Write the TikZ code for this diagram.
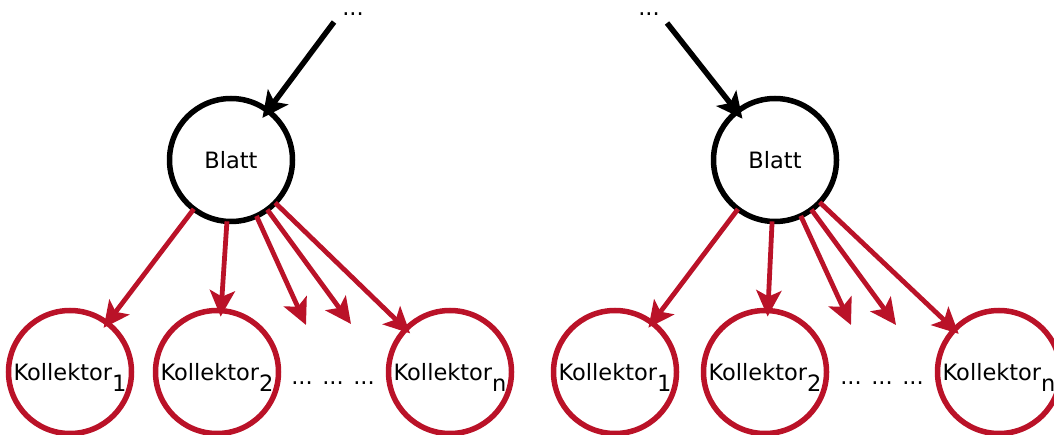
\documentclass[tikz,border=0pt]{standalone}
\usepackage{fontspec}
\setmainfont{DejaVu Sans}
\usetikzlibrary{arrows.meta}
\definecolor{kred}{RGB}{186,18,40}
% index written full size and lowered, without changing the box height
\newcommand\kidx[1]{\smash{\raisebox{-0.5em}{#1}}}
\begin{document}
\begin{tikzpicture}[x=1pt,y=-1pt,
  leaf/.style={circle, draw=black, line width=5.5pt, minimum size=123pt,
    inner sep=0pt, outer sep=0pt, font=\fontsize{22.5}{26}\selectfont},
  coll/.style={leaf, draw=kred},
  txt/.style={font=\fontsize{22.5}{26}\selectfont, inner sep=0pt},
  tip/.style={-{Stealth[length=26pt,width=25pt,inset=6pt]}},
  inarrow/.style={line width=5.5pt, tip, shorten >=-9pt},
  outarrow/.style={line width=4.8pt, draw=kred, tip, shorten >=-6pt},
  freearrow/.style={outarrow, shorten >=0pt},
]
\useasboundingbox (0,0) rectangle (1054,435);

% left tree
\node[leaf] (blattL) at (231,160) {Blatt};
\node[coll] (k1L) at (70,372) {Kollektor\kidx{1}};
\node[coll] (k2L) at (217,372) {Kollektor\kidx{2}};
\node[txt, anchor=base] (dotsL) at (333,384) {... ... ...};
\node[coll] (knL) at (450,372) {Kollektor\kidx{n}};
\node[txt, anchor=base] (topL) at (353,16) {...};
\coordinate (inL) at (334,22);
\coordinate (c3L) at (306,325);
\coordinate (c4L) at (351,324);

\draw[inarrow] (inL) -- (blattL);
\draw[outarrow] (blattL) -- (k1L);
\draw[outarrow] (blattL) -- (k2L);
\draw[freearrow] (blattL) -- (c3L);
\draw[freearrow] (blattL) -- (c4L);
\draw[outarrow] (blattL) -- (knL);

% right tree
\node[leaf] (blattR) at (775,160) {Blatt};
\node[coll] (k1R) at (615,372) {Kollektor\kidx{1}};
\node[coll] (k2R) at (765,372) {Kollektor\kidx{2}};
\node[txt, anchor=base] (dotsR) at (882,384) {... ... ...};
\node[coll] (knR) at (999,372) {Kollektor\kidx{n}};
\node[txt, anchor=base] (topR) at (649,16) {...};
\coordinate (inR) at (667,23);
\coordinate (c3R) at (851,325);
\coordinate (c4R) at (896,325);

\draw[inarrow] (inR) -- (blattR);
\draw[outarrow] (blattR) -- (k1R);
\draw[outarrow] (blattR) -- (k2R);
\draw[freearrow] (blattR) -- (c3R);
\draw[freearrow] (blattR) -- (c4R);
\draw[outarrow] (blattR) -- (knR);
\end{tikzpicture}
\end{document}
